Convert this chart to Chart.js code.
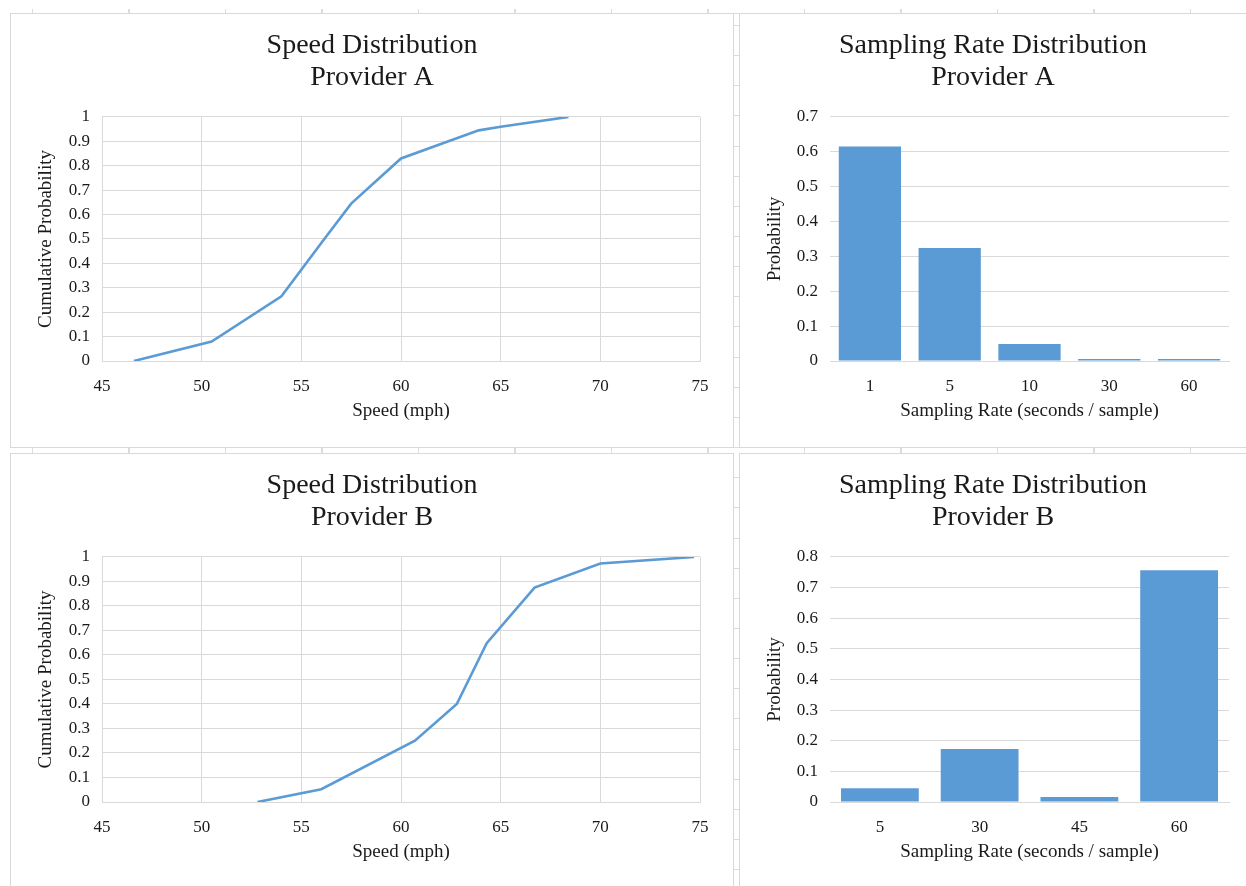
<!DOCTYPE html>
<html>
<head>
<meta charset="utf-8">
<script src="https://cdn.jsdelivr.net/npm/chart.js@4/dist/chart.umd.min.js"></script>
<style>
  html,body{margin:0;padding:0}
  body{width:1246px;height:886px;overflow:hidden;position:relative;background:#fff}
  .p{position:absolute;background:#fff;border:1px solid #d9d9d9;box-sizing:border-box;overflow:hidden}
  .p canvas{position:absolute;left:0;top:0}
  /* spreadsheet cell lines peeking out between the chart boxes */
  .cols{position:absolute;background-image:repeating-linear-gradient(90deg,#dcdcdc 0 1px,transparent 1px 96.5px)}
  .rows{position:absolute;background-image:repeating-linear-gradient(180deg,#dcdcdc 0 1px,transparent 1px 30.15px)}
</style>
</head>
<body>
<div class="cols" style="left:0;top:9px;width:1246px;height:4px;background-position:32px 0"></div>
<div class="cols" style="left:0;top:447px;width:1246px;height:6px;background-position:32px 0"></div>
<div class="rows" style="left:733px;top:0;width:6px;height:886px;background-position:0 25px"></div>

<div class="p" style="left:10px;top:13px;width:724px;height:435px"><canvas id="spA" width="722" height="433"></canvas></div>
<div class="p" style="left:739px;top:13px;width:520px;height:435px"><canvas id="srA" width="506" height="433"></canvas></div>
<div class="p" style="left:10px;top:453px;width:724px;height:440px"><canvas id="spB" width="722" height="432"></canvas></div>
<div class="p" style="left:739px;top:453px;width:520px;height:440px"><canvas id="srB" width="506" height="432"></canvas></div>

<script>
// speed CDFs (mph vs cumulative probability)
const SPEED_A = [46.6, 50.5, 54.0, 56.2, 57.5, 60.0, 63.9, 65.0, 68.4]
const CUM_A   = [0, 0.08, 0.265, 0.505, 0.645, 0.83, 0.945, 0.96, 1]
const SPEED_B = [52.8, 56.0, 60.7, 62.8, 64.3, 66.7, 70.0, 74.7]
const CUM_B   = [0, 0.052, 0.25, 0.4, 0.648, 0.875, 0.973, 1]

// sampling rate distributions
const RATE_A = ['1', '5', '10', '30', '60']
const PROB_A = [0.615, 0.324, 0.049, 0.006, 0.006]
const RATE_B = ['5', '30', '45', '60']
const PROB_B = [0.045, 0.173, 0.016, 0.757]

const SPEED_TICKS = {min: 45, max: 75, step: 5}

const FONT = '"Liberation Serif","Times New Roman",serif'
const BLUE = '#5b9bd5', GC = '#d9d9d9', TC = '#1a1a1a'

Chart.defaults.font.family = FONT
Chart.defaults.animation = false

const fmt1 = v => String(Number(v.toFixed(1)))

const base = (title, xTitle, yTitle, o) => ({
  responsive: false,
  maintainAspectRatio: false,
  layout: {padding: 0},
  plugins: {
    legend: {display: false},
    tooltip: {enabled: false},
    title: {display: true, text: title, color: TC,
      font: {size: 28, weight: 'normal', lineHeight: 1.16}, padding: {top: 15, bottom: 23}}
  },
  scales: {
    x: {
      afterFit: s => { s.height = o.xh },
      title: {display: true, text: xTitle, color: TC, font: {size: 19, lineHeight: 1.2}, padding: {top: 0, bottom: o.xtb}},
      ticks: {color: TC, font: {size: 17}, padding: 15},
      grid: {color: GC, drawTicks: false},
      border: {display: true, color: GC}
    },
    y: {
      afterFit: s => { s.width = o.yw },
      title: {display: true, text: yTitle, color: TC, font: {size: 19, lineHeight: 1.2}, padding: {top: 24, bottom: 0}},
      ticks: {color: TC, font: {size: 17}, padding: 12, callback: fmt1},
      grid: {color: GC, drawTicks: false},
      border: {display: true, color: GC}
    },
    // empty right-hand gutter so the title stays centred on the whole box
    gut: {
      axis: 'y', position: 'right', type: 'linear',
      afterFit: s => { s.width = o.right },
      ticks: {display: false}, grid: {display: false, drawTicks: false}, border: {display: false}
    }
  }
})

function speedChart(id, title, xs, ys, o) {
  const opts = base(title, 'Speed (mph)', 'Cumulative Probability', o)
  Object.assign(opts.scales.x, {type: 'linear', min: SPEED_TICKS.min, max: SPEED_TICKS.max})
  opts.scales.x.ticks.stepSize = SPEED_TICKS.step
  Object.assign(opts.scales.y, {min: 0, max: 1})
  opts.scales.y.ticks.stepSize = 0.1
  new Chart(document.getElementById(id), {
    type: 'line',
    data: {datasets: [{
      data: xs.map((x, i) => ({x, y: ys[i]})), xAxisID: 'x', yAxisID: 'y',
      borderColor: BLUE, borderWidth: 2.6, pointRadius: 0, tension: 0, fill: false
    }]},
    options: opts
  })
}

function rateChart(id, title, labels, vals, ymax, o) {
  const opts = base(title, 'Sampling Rate (seconds / sample)', 'Probability', o)
  opts.scales.x.grid = {display: false, drawTicks: false}
  opts.scales.x.border = {display: true, color: GC}
  Object.assign(opts.scales.y, {min: 0, max: ymax})
  opts.scales.y.ticks.stepSize = 0.1
  opts.scales.y.border = {display: false}
  new Chart(document.getElementById(id), {
    type: 'bar',
    data: {labels, datasets: [{
      data: vals, xAxisID: 'x', yAxisID: 'y', backgroundColor: BLUE, borderWidth: 0,
      barPercentage: 0.78, categoryPercentage: 1
    }]},
    options: opts
  })
}

speedChart('spA', ['Speed Distribution', 'Provider A'], SPEED_A, CUM_A, {right: 33, yw: 91, xh: 86, xtb: 25})
speedChart('spB', ['Speed Distribution', 'Provider B'], SPEED_B, CUM_B, {right: 33, yw: 91, xh: 84, xtb: 23})
rateChart('srA', ['Sampling Rate Distribution', 'Provider A'], RATE_A, PROB_A, 0.7, {right: 17, yw: 90, xh: 86, xtb: 25})
rateChart('srB', ['Sampling Rate Distribution', 'Provider B'], RATE_B, PROB_B, 0.8, {right: 17, yw: 90, xh: 84, xtb: 23})
</script>
</body>
</html>
